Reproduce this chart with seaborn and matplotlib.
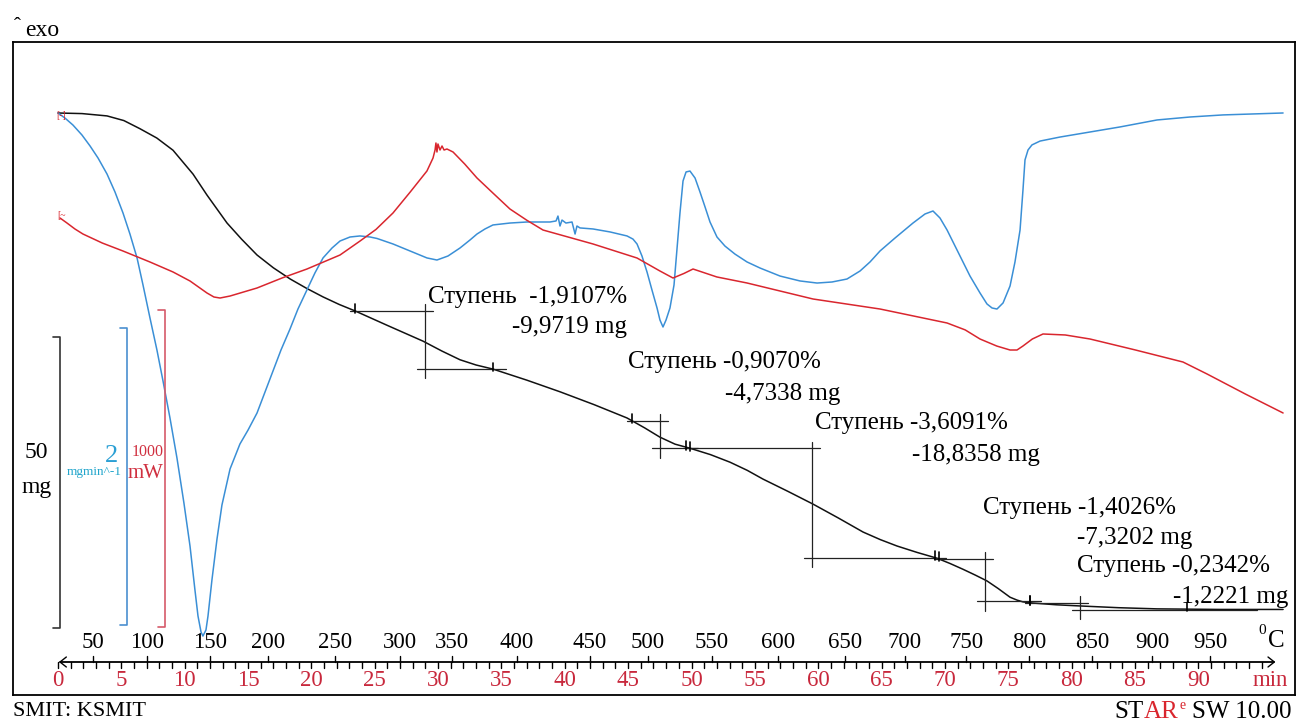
import numpy as np
import pandas as pd
import matplotlib
matplotlib.use("Agg")
import matplotlib.pyplot as plt
import seaborn as sns
from matplotlib.transforms import blended_transform_factory

# ---------------- data ----------------
# TG: sample mass (mg) against time (min)
tg_time = [0.0, 1.9, 3.87, 5.2, 6.47, 7.8, 9.08, 10.66, 11.76, 13.34, 14.5, 15.71,
           17.0, 18.31, 19.6, 20.92, 22.2, 23.44, 26.0, 28.81, 30.3, 31.73, 33.0,
           34.33, 37.0, 39.62, 42.3, 44.91, 46.3, 47.51, 48.7, 49.88, 51.5, 53.04,
           54.4, 55.64, 57.6, 59.59, 61.6, 63.54, 64.9, 66.22, 67.8, 69.38, 70.4,
           71.43, 72.4, 73.32, 74.2, 75.14, 75.7, 76.16, 76.95, 78.8, 80.66, 83.7,
           86.74, 91.7, 96.69]
tg_mass = [521.9, 521.8, 521.4, 520.6, 519.2, 517.6, 515.5, 511.4, 507.8, 503.0,
           500.2, 497.5, 495.3, 493.4, 491.8, 490.3, 489.0, 487.9, 485.4, 482.7,
           481.0, 479.5, 478.6, 477.9, 476.0, 474.0, 471.8, 469.5, 467.8, 466.2,
           465.0, 464.3, 463.2, 461.9, 460.5, 459.0, 456.9, 454.7, 452.3, 449.9,
           448.6, 447.5, 446.4, 445.4, 444.5, 443.5, 442.5, 441.5, 440.2, 438.7,
           438.2, 437.9, 437.7, 437.4, 437.2, 436.9, 436.7, 436.6, 436.6]

# DTG: mass-loss rate (mg/min)
dtg_time = [0.00, 0.55, 1.18, 1.89, 2.53, 3.16, 3.87, 4.50, 5.13, 5.68, 6.24, 6.71,
            7.26, 7.81, 8.29, 8.84, 9.39, 9.94, 10.42, 10.81, 11.05, 11.29, 11.44,
            11.68, 11.84, 12.15, 12.55, 12.94, 13.58, 14.36, 15.00, 15.71, 16.34,
            16.97, 17.60, 18.31, 18.94, 19.65, 20.28, 20.92, 21.63, 22.26, 23.05,
            23.84, 24.63, 25.18, 26.44, 27.78, 29.12, 29.91, 30.78, 31.73, 32.52,
            33.07, 33.70, 34.33, 35.67, 37.02, 38.83, 39.31, 39.46, 39.62, 39.78,
            40.09, 40.57, 40.81, 40.96, 41.20, 42.23, 43.57, 44.91, 45.38, 45.70,
            46.09, 46.49, 46.88, 47.28, 47.51, 47.75, 47.99, 48.30, 48.62, 48.86,
            49.09, 49.33, 49.57, 49.88, 50.28, 50.67, 51.07, 51.46, 52.01, 52.64,
            53.43, 54.38, 55.41, 56.99, 58.56, 59.91, 61.09, 62.27, 63.30, 64.09,
            64.88, 66.06, 67.48, 68.43, 69.06, 69.61, 70.17, 71.03, 71.98, 72.77,
            73.32, 73.72, 74.11, 74.59, 75.14, 75.53, 75.93, 76.16, 76.32, 76.56,
            76.87, 77.51, 79.08, 81.45, 83.82, 86.74, 89.35, 91.95, 96.69]
dtg_rate = [0.000, -0.034, -0.081, -0.148, -0.222, -0.303, -0.411, -0.532, -0.673,
            -0.815, -0.976, -1.158, -1.380, -1.596, -1.805, -2.054, -2.323, -2.626,
            -2.916, -3.212, -3.387, -3.495, -3.522, -3.481, -3.387, -3.145, -2.869,
            -2.640, -2.397, -2.229, -2.135, -2.020, -1.879, -1.737, -1.596, -1.455,
            -1.320, -1.192, -1.077, -0.976, -0.909, -0.862, -0.835, -0.828, -0.835,
            -0.845, -0.882, -0.929, -0.976, -0.990, -0.963, -0.909, -0.855, -0.815,
            -0.781, -0.754, -0.741, -0.734, -0.734, -0.727, -0.694, -0.761, -0.721,
            -0.741, -0.734, -0.815, -0.761, -0.774, -0.781, -0.801, -0.828, -0.849,
            -0.882, -0.963, -1.071, -1.192, -1.313, -1.394, -1.441, -1.394, -1.313,
            -1.158, -0.909, -0.673, -0.458, -0.397, -0.391, -0.438, -0.532, -0.633,
            -0.734, -0.835, -0.896, -0.950, -1.003, -1.044, -1.098, -1.131, -1.145,
            -1.138, -1.118, -1.064, -1.003, -0.929, -0.842, -0.741, -0.680, -0.660,
            -0.707, -0.788, -0.936, -1.098, -1.212, -1.286, -1.313, -1.320, -1.279,
            -1.165, -1.003, -0.788, -0.519, -0.316, -0.249, -0.215, -0.189, -0.162,
            -0.128, -0.094, -0.047, -0.027, -0.013, 0.000]

# DSC: heat flow (mW)
dsc_time = [0.16, 0.71, 1.34, 1.97, 3.5, 5.13, 7.26, 9.08, 10.42, 11.76, 12.31,
            12.79, 13.58, 15.71, 17.7, 19.65, 22.26, 23.84, 25.1, 26.44, 27.8, 29.12,
            29.60, 29.76, 29.83, 29.91, 29.99, 30.15, 30.31, 30.47, 30.70, 31.18,
            32.1, 33.07, 34.4, 35.67, 37.0, 38.28, 42.23, 45.70, 47.51, 48.54, 49.4,
            50.12, 52.0, 54.38, 59.59, 64.88, 70.17, 71.6, 72.77, 74.1, 75.14, 75.69,
            76.16, 76.9, 77.74, 79.5, 81.45, 85.0, 88.79, 90.69, 93.7, 96.69]
dsc_flow = [0.0, -15.8, -34.7, -50.5, -79.0, -104.1, -138.8, -170.3, -198.7, -236.6,
            -249.2, -252.4, -246.1, -220.8, -189.0, -160.9, -116.7, -72.6, -36.0, 15.8,
            82.0, 148.3, 189.3, 214.5, 236.6, 208.2, 233.4, 214.5, 227.1, 214.5, 217.7,
            208.2, 170.3, 126.2, 76.0, 28.4, -7.0, -37.9, -82.0, -126.2, -167.2,
            -189.3, -175.0, -160.9, -186.0, -205.0, -255.5, -287.1, -331.2, -353.0,
            -381.7, -404.0, -416.4, -416.4, -403.8, -381.7, -365.9, -369.0, -381.7,
            -416.0, -454.3, -492.1, -555.0, -615.1]

# TG step evaluations
step_start = [23.44, 45.30, 49.88, 69.50, 76.72]
step_mid = [28.97, 47.51, 59.51, 73.16, 80.66]
step_end = [34.33, 49.60, 69.20, 76.72, 89.10]
step_pct = [-1.9107, -0.9070, -3.6091, -1.4026, -0.2342]
step_mg = [-9.9719, -4.7338, -18.8358, -7.3202, -1.2221]

# scale bars: 50 mg, 2 mg/min, 1000 mW
scale_tg, scale_dtg, scale_dsc = 50, 2, 1000

# axis labelling: time ticks (min) and the times at which each temperature was reached
time_ticks = list(range(0, 95, 5))
temp_ticks = list(range(50, 1000, 50))
temp_tick_time = [2.76, 7.02, 12.0, 16.57, 21.86, 27.0, 31.1, 36.23, 41.99, 46.57,
                  51.62, 56.83, 62.12, 66.85, 71.67, 76.64, 81.61, 86.35, 90.92]

# ---------------- styling ----------------
sns.set_theme(style="white")
plt.rcParams['font.family'] = ['Liberation Serif', 'DejaVu Serif']

C_TG = "#111111"
C_DTG = "#3a8fd6"
C_DSC = "#d9262e"
C_TIME = "#c8283c"

W, H = 1297, 722
fig = plt.figure(figsize=(W / 100, H / 100), dpi=100)
fig.patch.set_facecolor("white")

# plot frame
ax = fig.add_axes([13 / W, 1 - 695 / H, (1295 - 13) / W, (695 - 42) / H])
ax.set_xlim(-3.55, 97.63)
ax.set_ylim(421.9, 534.1)
ax.set_xticks([])
ax.set_yticks([])
for s in ax.spines.values():
    s.set_color("black")
    s.set_linewidth(1.3)

ax_dtg = ax.twinx()
ax_dtg.set_ylim(-3.919, 0.478)
ax_dsc = ax.twinx()
ax_dsc.set_ylim(-1504.7, 555.2)
for a in (ax_dtg, ax_dsc):
    a.set_xlim(ax.get_xlim())
    a.axis("off")

tg_df = pd.DataFrame({"t": tg_time, "mg": tg_mass})
dtg_df = pd.DataFrame({"t": dtg_time, "rate": dtg_rate})
dsc_df = pd.DataFrame({"t": dsc_time, "mW": dsc_flow})

LW = 1.1
sns.lineplot(data=dsc_df, x="t", y="mW", ax=ax_dsc, color=C_DSC, lw=LW,
             sort=False, estimator=None)
sns.lineplot(data=dtg_df, x="t", y="rate", ax=ax_dtg, color=C_DTG, lw=LW,
             sort=False, estimator=None)
sns.lineplot(data=tg_df, x="t", y="mg", ax=ax, color=C_TG, lw=LW,
             sort=False, estimator=None)
ax.set_xlabel("")
ax.set_ylabel("")

# ---------------- step evaluation lines ----------------
lower_ext = [1.0, 0.9, 0.9, 0.9, 5.5]
for i in range(len(step_mg)):
    m_up = np.interp(step_start[i], tg_time, tg_mass)
    m_lo = m_up + step_mg[i]
    kw = dict(color="#222222", lw=0.9, zorder=4)
    ax.plot([step_start[i] - 0.4, step_mid[i] + 0.65], [m_up, m_up], **kw)
    ax.plot([step_mid[i] - 0.65, step_end[i] + lower_ext[i]], [m_lo, m_lo], **kw)
    ax.plot([step_mid[i], step_mid[i]], [m_up + 1.1, m_lo - 1.6], **kw)
    for tm in (step_start[i], step_end[i]):
        mc = np.interp(tm, tg_time, tg_mass)
        ax.plot([tm, tm], [mc - 0.4, mc + 1.1], color="black", lw=1.2, zorder=5)

fmt = lambda v: f"{v:.4f}".replace(".", ",")
label_l1 = [(29.20, 490.3), (44.99, 479.1), (59.75, 468.6), (73.0, 454.0), (80.43, 444.1)]
label_l2 = [(44.91, 485.2), (61.72, 473.6), (77.51, 463.1), (89.5, 448.9), (97.08, 438.7)]
for i in range(len(step_mg)):
    gap = "  " if i == 0 else " "
    ax.text(*label_l1[i], f"Ступень{gap}{fmt(step_pct[i])}%", ha="left", va="center",
            fontsize=18, color="black", zorder=6)
    ax.text(*label_l2[i], f"{fmt(step_mg[i])} mg", ha="right", va="center",
            fontsize=18, color="black", zorder=6)

# ---------------- scale bars ----------------
def bracket(a, x, y0, y1, color, dx=0.55):
    a.plot([x - dx, x, x, x - dx], [y0, y0, y1, y1], color=color, lw=1.2)

tg_bar_base = 433.4
dtg_bar_base = -3.448
dsc_bar_base = -1290
bracket(ax, 0.16, tg_bar_base, tg_bar_base + scale_tg, "#333333")
bracket(ax_dtg, 5.45, dtg_bar_base, dtg_bar_base + scale_dtg, "#4a8fd0")
bracket(ax_dsc, 8.45, dsc_bar_base, dsc_bar_base + scale_dsc, "#d55a6a")

def ftext(x, y, s, **kw):
    return fig.text(x / W, 1 - y / H, s, **kw)

ftext(36, 453, f"{scale_tg}", ha="center", va="center", fontsize=17, color="black")
ftext(37, 487, "mg", ha="center", va="center", fontsize=17, color="black")
ftext(112, 456, f"{scale_dtg}", ha="center", va="center", fontsize=19, color="#2a9fd4")
ftext(94, 472, "mgmin^-1", ha="center", va="center", fontsize=9.5, color="#22a6cc")
ftext(148, 452, f"{scale_dsc}", ha="center", va="center", fontsize=11.5, color="#d03040")
ftext(146, 474, "mW", ha="center", va="center", fontsize=15, color="#d03040")

# curve start markers
ftext(61, 116, "[-]", ha="center", va="center", fontsize=7, color=C_DSC)
ftext(61, 216, "[~", ha="center", va="center", fontsize=7, color=C_DSC)

# ---------------- combined time / temperature axis ----------------
trans = blended_transform_factory(ax.transData, ax.transAxes)
y_axis = (695 - 662) / 653
px = 1 / 653
t_end_axis = 96.0
ax.plot([0.16, t_end_axis], [y_axis, y_axis], color="black", lw=1.3, transform=trans)
ax.plot([0.16 + 0.5, 0.16, 0.16 + 0.5], [y_axis + 5 * px, y_axis, y_axis - 5 * px],
        color="black", lw=1.0, transform=trans)
ax.plot([t_end_axis - 0.5, t_end_axis, t_end_axis - 0.5],
        [y_axis + 5 * px, y_axis, y_axis - 5 * px], color="black", lw=1.0, transform=trans)
for tm in range(0, 96):
    ax.plot([tm, tm], [y_axis, y_axis - 6 * px], color="black", lw=1.0, transform=trans)
for T, tm in zip(temp_ticks, temp_tick_time):
    ax.plot([tm, tm], [y_axis, y_axis + 6 * px], color="black", lw=1.0, transform=trans)
    ax.text(tm, (695 - 642) / 653, str(T), transform=trans, ha="center", va="center",
            fontsize=16.5, color="black")
for tm in time_ticks:
    ax.text(tm, (695 - 680) / 653, str(tm), transform=trans, ha="center", va="center",
            fontsize=16.5, color=C_TIME)
ftext(1270, 681, "min", ha="center", va="center", fontsize=16.5, color=C_TIME)
ftext(1262, 630, "0", ha="center", va="center", fontsize=11, color="black")
ftext(1276, 641, "C", ha="center", va="center", fontsize=18, color="black")

# ---------------- header / footer ----------------
ftext(14, 27, "ˆ", ha="left", va="center", fontsize=15, color="black")
ftext(25, 30, "exo", ha="left", va="center", fontsize=17, color="black")
ftext(13, 712, "SMIT: KSMIT", ha="left", va="center", fontsize=16, color="black")

t_sw = ftext(1292, 712, "SW 10.00", ha="right", va="center", fontsize=18, color="black")
t_e = ax.annotate("e", xy=(0, 0.78), xycoords=t_sw, xytext=(-5, 0),
                  textcoords="offset points", ha="right", va="center",
                  fontsize=10, color=C_DSC, annotation_clip=False)
t_ar = ax.annotate("AR", xy=(0, 0.5), xycoords=(t_e, t_sw), xytext=(-0.5, 0),
                   textcoords="offset points", ha="right", va="center",
                   fontsize=18, color=C_DSC, annotation_clip=False)
t_st = ax.annotate("ST", xy=(0, 0.5), xycoords=t_ar, ha="right", va="center",
                   fontsize=18, color="black", annotation_clip=False)

fig.savefig("out.png", dpi=100, facecolor="white")
